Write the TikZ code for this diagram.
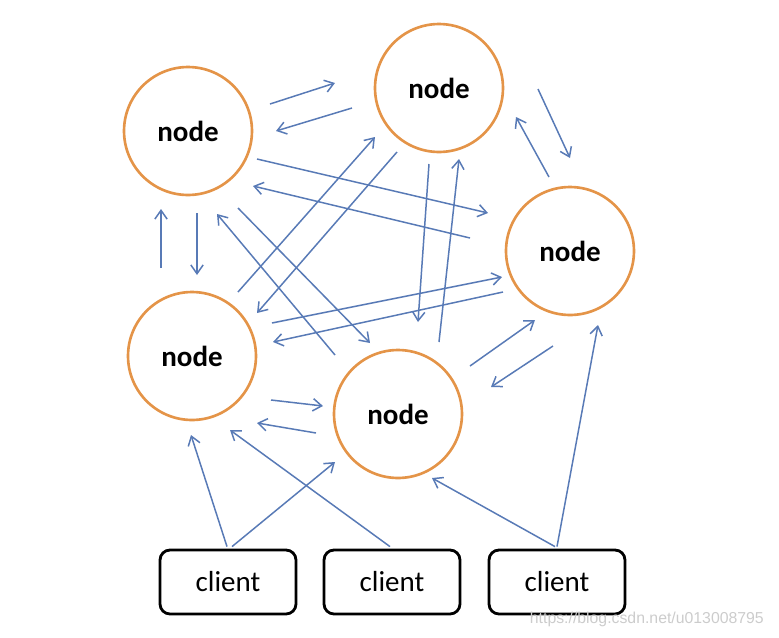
\documentclass[tikz,border=0pt]{standalone}
\usepackage{fontspec}
\setmainfont{Carlito}
\newfontfamily\wmfont{Liberation Sans}
\usetikzlibrary{arrows.meta}
\definecolor{ringorange}{RGB}{228,148,72}
\definecolor{linkblue}{RGB}{88,122,182}
\tikzset{
  ring/.style={circle, draw=ringorange, line width=1.5pt, minimum size=2.56cm, inner sep=0pt,
    font=\fontsize{16.5}{18}\selectfont\bfseries},
  clientbox/.style={draw, rounded corners=0.2cm, line width=1.6pt, minimum width=2.72cm,
    minimum height=1.28cm, inner sep=0pt, font=\fontsize{16.5}{18}\selectfont},
  link/.style={draw=linkblue, line width=0.85pt, -{Straight Barb[length=5pt,width=7pt]}}
}
\begin{document}
\begin{tikzpicture}[x=0.02cm, y=-0.02cm]
    \useasboundingbox (0,0) rectangle (779,637);
    \node[ring] (n1) at (188,131) {node};
    \node[ring] (n2) at (439,88) {node};
    \node[ring] (n3) at (570,251) {node};
    \node[ring] (n4) at (192,356) {node};
    \node[ring] (n5) at (398,414) {node};
    \node[clientbox] (c1) at (228,582) {client};
    \node[clientbox] (c2) at (392,582) {client};
    \node[clientbox] (c3) at (557,582) {client};
    % node to node
    \draw[link] ([shift={(82,-27)}]n1.center) -- ([shift={(-104,-5)}]n2.center);
    \draw[link] ([shift={(-87,20)}]n2.center) -- ([shift={(88,0)}]n1.center);
    \draw[link] ([shift={(69,28)}]n1.center) -- ([shift={(-82,-38)}]n3.center);
    \draw[link] ([shift={(-100,-13)}]n3.center) -- ([shift={(65,55)}]n1.center);
    \draw[link] ([shift={(-31,-88)}]n4.center) -- ([shift={(-27,78)}]n1.center);
    \draw[link] ([shift={(9,82)}]n1.center) -- ([shift={(5,-81)}]n4.center);
    \draw[link] ([shift={(-63,-59)}]n5.center) -- ([shift={(29,83)}]n1.center);
    \draw[link] ([shift={(50,77)}]n1.center) -- ([shift={(-28,-71)}]n5.center);
    \draw[link] ([shift={(46,-64)}]n4.center) -- ([shift={(-64,49)}]n2.center);
    \draw[link] ([shift={(-42,64)}]n2.center) -- ([shift={(65,-43)}]n4.center);
    \draw[link] ([shift={(-10,76)}]n2.center) -- ([shift={(20,-92)}]n5.center);
    \draw[link] ([shift={(41,-72)}]n5.center) -- ([shift={(20,71)}]n2.center);
    \draw[link] ([shift={(80,-33)}]n4.center) -- ([shift={(-68,26)}]n3.center);
    \draw[link] ([shift={(-67,41)}]n3.center) -- ([shift={(81,-14)}]n4.center);
    \draw[link] ([shift={(72,-48)}]n5.center) -- ([shift={(-35,69)}]n3.center);
    \draw[link] ([shift={(-17,95)}]n3.center) -- ([shift={(93,-27)}]n5.center);
    \draw[link] ([shift={(79,44)}]n4.center) -- ([shift={(-75,-8)}]n5.center);
    \draw[link] ([shift={(-82,19)}]n5.center) -- ([shift={(65,67)}]n4.center);
    \draw[link] ([shift={(99,1)}]n2.center) -- ([shift={(0,-93)}]n3.center);
    \draw[link] ([shift={(-21,-74)}]n3.center) -- ([shift={(77,29)}]n2.center);
    % clients
    \draw[link] ([shift={(-1,-2)}]c1.north) -- ([shift={(-1,79)}]n4.center);
    \draw[link] ([shift={(4,-2)}]c1.north) -- ([shift={(-63,48)}]n5.center);
    \draw[link] ([shift={(-2,-2)}]c2.north) -- ([shift={(38,74)}]n4.center);
    \draw[link] ([shift={(-2,-2)}]c3.north) -- ([shift={(34,64)}]n5.center);
    \draw[link] ([shift={(0,-2)}]c3.north) -- ([shift={(28,74)}]n3.center);
    \node[font=\wmfont\fontsize{9}{10}\selectfont, text=black!20, anchor=east] (wm) at (770,619) {https://blog.csdn.net/u013008795};
\end{tikzpicture}
\end{document}
